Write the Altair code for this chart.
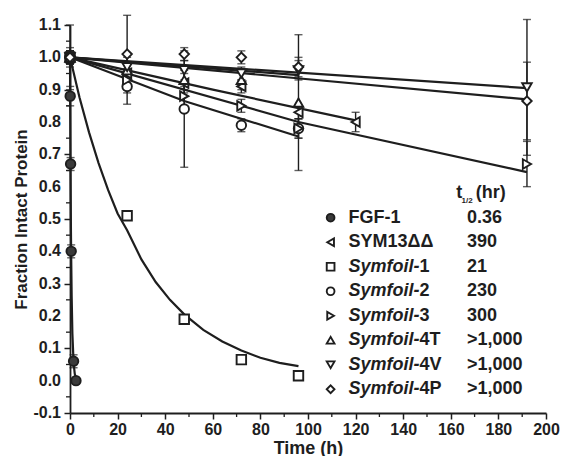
import altair as alt
import pandas as pd

FONT = "Liberation Sans"
INK = "#1e1e1e"

series = ["FGF-1", "SYM13ΔΔ", "Symfoil-1", "Symfoil-2", "Symfoil-3",
          "Symfoil-4T", "Symfoil-4V", "Symfoil-4P"]
shapes = ["circle", "triangle-left", "square", "circle", "triangle-right",
          "triangle-up", "triangle-down", "diamond"]
fills = ["#3a3a3a"] + ["white"] * 7
half_life = ["0.36", "390", "21", "230", "300", ">1,000", ">1,000", ">1,000"]
name_main = ["FGF-1", "SYM13ΔΔ", "Symfoil-", "Symfoil-", "Symfoil-",
             "Symfoil-", "Symfoil-", "Symfoil-"]
name_suffix = ["", "", "1", "2", "3", "4T", "4V", "4P"]
name_italic = [False, False, True, True, True, True, True, True]

# measured points: time (h), fraction intact, error
fgf_t = [0, 0.083, 0.25, 0.5, 1.5, 2.5]
fgf_y = [1.0, 0.88, 0.67, 0.40, 0.06, 0.0]
fgf_e = [0.03, 0.03, 0.02, 0.02, 0.02, 0.01]

sym13_t = [0, 24, 48, 72, 96, 120]
sym13_y = [1.0, 0.95, 0.92, 0.91, 0.83, 0.80]
sym13_e = [0.02, 0.03, 0.03, 0.02, 0.02, 0.03]

s1_t = [0, 24, 48, 72, 96]
s1_y = [1.0, 0.51, 0.19, 0.065, 0.015]
s1_e = [0.02, 0.01, 0.01, 0.01, 0.01]

s2_t = [0, 24, 48, 72, 96]
s2_y = [1.0, 0.91, 0.84, 0.79, 0.78]
s2_e = [0.10, 0.055, 0.18, 0.02, 0.03]

s3_t = [0, 24, 48, 72, 96, 192]
s3_y = [1.0, 0.93, 0.88, 0.85, 0.78, 0.67]
s3_e = [0.02, 0.03, 0.03, 0.02, 0.03, 0.07]

s4t_t = [0, 24, 48, 72, 96]
s4t_y = [1.0, 0.96, 0.93, 0.93, 0.86]
s4t_e = [0.02, 0.04, 0.03, 0.03, 0.21]

s4v_t = [0, 24, 48, 72, 96, 192]
s4v_y = [1.0, 0.97, 0.96, 0.95, 0.96, 0.907]
s4v_e = [0.02, 0.04, 0.03, 0.02, 0.03, 0.21]

s4p_t = [0, 24, 48, 72, 96, 192]
s4p_y = [1.0, 1.01, 1.01, 1.0, 0.97, 0.865]
s4p_e = [0.02, 0.12, 0.02, 0.02, 0.03, 0.12]

# fitted decay curves
fit_fgf_t = [0, 0.1, 0.2, 0.3, 0.4, 0.5, 0.7, 1.0, 1.5, 2.0, 2.5]
fit_fgf_y = [1.0, 0.825, 0.68, 0.56, 0.46, 0.38, 0.26, 0.146, 0.056, 0.021, 0.008]
fit_sym13_t = [0, 60, 120]
fit_sym13_y = [1.0, 0.90, 0.805]
fit_s1_t = [0, 4, 8, 12, 16, 20, 24, 30, 36, 42, 48, 56, 64, 72, 80, 88, 96]
fit_s1_y = [1.0, 0.876, 0.768, 0.673, 0.590, 0.517, 0.465, 0.375, 0.305, 0.250,
            0.205, 0.157, 0.121, 0.093, 0.071, 0.055, 0.045]
fit_s2_t = [0, 48, 96]
fit_s2_y = [1.0, 0.865, 0.755]
fit_s3_t = [0, 96, 192]
fit_s3_y = [1.0, 0.80, 0.645]
fit_s4t_t = [0, 96]
fit_s4t_y = [1.0, 0.945]
fit_s4v_t = [0, 192]
fit_s4v_y = [1.0, 0.905]
fit_s4p_t = [0, 192]
fit_s4p_y = [1.0, 0.87]

x_ticks = [0, 20, 40, 60, 80, 100, 120, 140, 160, 180, 200]
x_minor = [10, 30, 50, 70, 90, 110, 130, 150, 170, 190]
y_ticks = [-0.1, 0.0, 0.1, 0.2, 0.3, 0.4, 0.5, 0.6, 0.7, 0.8, 0.9, 1.0, 1.1]
y_tick_labels = ["-0.1", "0.0", "0.1", "0.2", "0.3", "0.4", "0.5", "0.6", "0.7",
                 "0.8", "0.9", "1.0", "1.1"]
y_minor = [-0.05, 0.05, 0.15, 0.25, 0.35, 0.45, 0.55, 0.65, 0.75, 0.85, 0.95, 1.05]

pts_src = [(fgf_t, fgf_y, fgf_e), (sym13_t, sym13_y, sym13_e), (s1_t, s1_y, s1_e),
           (s2_t, s2_y, s2_e), (s3_t, s3_y, s3_e), (s4t_t, s4t_y, s4t_e),
           (s4v_t, s4v_y, s4v_e), (s4p_t, s4p_y, s4p_e)]
fit_src = [(fit_fgf_t, fit_fgf_y), (fit_sym13_t, fit_sym13_y), (fit_s1_t, fit_s1_y),
           (fit_s2_t, fit_s2_y), (fit_s3_t, fit_s3_y), (fit_s4t_t, fit_s4t_y),
           (fit_s4v_t, fit_s4v_y), (fit_s4p_t, fit_s4p_y)]

pts_rows, fit_rows = [], []
for name, (ts, ys, es) in zip(series, pts_src):
    for t, y, e in zip(ts, ys, es):
        pts_rows.append({"series": name, "t": t, "y": y, "lo": y - e, "hi": y + e})
for name, (ts, ys) in zip(series, fit_src):
    for k, (t, y) in enumerate(zip(ts, ys)):
        fit_rows.append({"series": name, "t": t, "y": y, "k": k})
pts = pd.DataFrame(pts_rows)
fits = pd.DataFrame(fit_rows)
leg = pd.DataFrame({"series": series, "i": list(range(len(series))),
                    "main": name_main, "suffix": name_suffix,
                    "ital": name_italic, "thalf": half_life})
ylab = pd.DataFrame({"v": y_ticks, "lab": y_tick_labels})

W, H = 476, 388
xs = alt.Scale(domain=[0, 200], nice=False)
ys = alt.Scale(domain=[-0.1, 1.1], nice=False)
shape_scale = alt.Scale(domain=series, range=shapes)
fill_scale = alt.Scale(domain=series, range=fills)

xaxis = alt.Axis(values=x_ticks, titlePadding=2, labelFontSize=16, titleFontSize=18,
                 labelOverlap=False, labelFlush=False, title="Time (h)")
yaxis = alt.Axis(values=y_ticks, labels=False, titlePadding=33, titleFontSize=17,
                 title="Fraction Intact Protein")


def XQ(f):
    return alt.X(f, scale=xs, axis=xaxis)


def YQ(f):
    return alt.Y(f, scale=ys, axis=yaxis)


lines = alt.Chart(fits).mark_line(color=INK, strokeWidth=2.2, clip=False).encode(
    x=XQ("t:Q"), y=YQ("y:Q"), detail="series:N", order="k:Q")

bars = alt.Chart(pts).mark_rule(color=INK, strokeWidth=1.4).encode(
    x=XQ("t:Q"), y=YQ("lo:Q"), y2="hi:Q")

caps = alt.Chart(pts).transform_fold(["lo", "hi"], as_=["end", "v"]).mark_tick(
    color=INK, orient="horizontal", size=8, thickness=1.4).encode(
    x=XQ("t:Q"), y=YQ("v:Q"))

marks = alt.Chart(pts).mark_point(filled=True, stroke=INK, strokeWidth=1.9,
                                  size=90, opacity=1).encode(
    x=XQ("t:Q"), y=YQ("y:Q"),
    shape=alt.Shape("series:N", scale=shape_scale, legend=None),
    fill=alt.Fill("series:N", scale=fill_scale, legend=None))

ymin = alt.Chart(pd.DataFrame({"v": y_minor})).mark_rule(color=INK, strokeWidth=1.3).encode(
    x=alt.value(-4), x2=alt.value(0), y=YQ("v:Q"))
xmin = alt.Chart(pd.DataFrame({"v": x_minor})).mark_rule(color=INK, strokeWidth=1.3).encode(
    x=XQ("v:Q"), y=alt.value(H), y2=alt.value(H + 4))

ylabels = alt.Chart(ylab).mark_text(font=FONT, fontSize=16, fontWeight="bold",
                                    color=INK, align="right", baseline="middle").encode(
    x=alt.value(-9), y=YQ("v:Q"), text="lab:N")

# legend table
base_leg = alt.Chart(leg).transform_calculate(ly="0.504 - datum.i * 0.0758")
LY = YQ("ly:Q")
leg_sym = base_leg.mark_point(filled=True, stroke=INK, strokeWidth=1.9, size=60,
                              opacity=1).encode(
    x=alt.datum(109.5), y=LY,
    shape=alt.Shape("series:N", scale=shape_scale, legend=None),
    fill=alt.Fill("series:N", scale=fill_scale, legend=None))
txt = dict(font=FONT, fontSize=18, fontWeight="bold", color=INK, align="left",
           baseline="middle")
leg_plain = base_leg.transform_filter("!datum.ital").mark_text(**txt).encode(
    x=alt.datum(117), y=LY, text="main:N")
leg_ital = base_leg.transform_filter("datum.ital").mark_text(
    fontStyle="italic", **txt).encode(x=alt.datum(117), y=LY, text="main:N")
leg_suf = base_leg.transform_filter("datum.ital").mark_text(dx=71, **txt).encode(
    x=alt.datum(117), y=LY, text="suffix:N")
leg_val = base_leg.mark_text(**txt).encode(x=alt.datum(166.8), y=LY, text="thalf:N")

hdr_t = alt.Chart(pd.DataFrame({"s": ["t"]})).mark_text(**txt).encode(
    x=alt.datum(162.3), y=alt.datum(0.58), text="s:N")
hdr_sub = alt.Chart(pd.DataFrame({"s": ["1/2"]})).mark_text(
    font=FONT, fontSize=8, fontWeight="bold", color=INK, align="left",
    baseline="middle").encode(x=alt.datum(164.5), y=alt.datum(0.556), text="s:N")
hdr_hr = alt.Chart(pd.DataFrame({"s": ["(hr)"]})).mark_text(**txt).encode(
    x=alt.datum(170.5), y=alt.datum(0.58), text="s:N")

chart = alt.layer(
    lines, bars, caps, marks, ymin, xmin, ylabels,
    leg_sym, leg_plain, leg_ital, leg_suf, leg_val, hdr_t, hdr_sub, hdr_hr
).properties(
    width=W, height=H,
    autosize=alt.AutoSizeParams(type="none"),
    padding={"left": 62, "top": 17, "right": 14, "bottom": 43},
    background="white",
).configure_view(strokeWidth=0).configure_axis(
    grid=False, labelFont=FONT, labelFontWeight="bold",
    labelColor=INK, titleFont=FONT, titleFontWeight="bold",
    titleColor=INK, domainColor=INK, domainWidth=1.8, tickColor=INK,
    tickWidth=1.5, tickSize=6, labelPadding=2,
    labelOverlap=False, labelFlush=False,
)

chart.save("out.html", embed_options={"renderer": "svg", "actions": False})
